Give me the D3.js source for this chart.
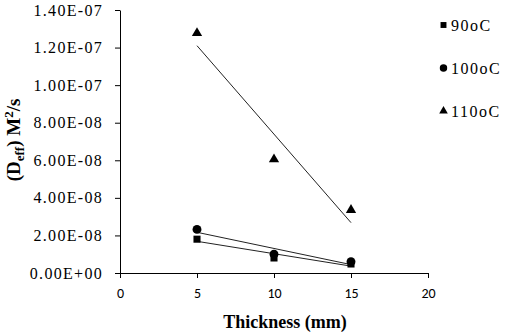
<!DOCTYPE html>
<html>
<head>
<meta charset="utf-8">
<script src="https://cdn.jsdelivr.net/npm/d3@7"></script>
<style>
  body { margin: 0; background: #fff; }
  svg { display: block; }
</style>
</head>
<body>
<div id="chart-area"></div>
<script>
var thickness = [5, 10, 15];
var series = ["90oC", "100oC", "110oC"];
var d90 = [1.8e-8, 0.8e-8, 0.48e-8];
var d100 = [2.32e-8, 1.0e-8, 0.6e-8];
var d110 = [1.277e-7, 6.05e-8, 3.35e-8];
var yTicks = [0, 2e-8, 4e-8, 6e-8, 8e-8, 1e-7, 1.2e-7, 1.4e-7];
var xTicks = [0, 5, 10, 15, 20];

var width = 507, height = 335;
var margin = {top: 10, right: 79, bottom: 62, left: 120};
var w = width - margin.left - margin.right;
var h = height - margin.top - margin.bottom;
var serif = "'Liberation Serif', 'Times New Roman', serif";

var svg = d3.select("#chart-area").append("svg")
    .attr("width", width)
    .attr("height", height);

var g = svg.append("g")
    .attr("transform", "translate(" + margin.left + "," + margin.top + ")");

var x = d3.scaleLinear().domain([0, 20]).range([0, w]);
var y = d3.scaleLinear().domain([0, 1.4e-7]).range([h, 0]);

// exponent format like 1.20E-07
function sci(v) {
    if (v === 0) return "0.00E+00";
    var e = Math.floor(Math.log10(v) + 1e-9);
    var m = v / Math.pow(10, e);
    var es = Math.abs(e) < 10 ? "0" + Math.abs(e) : "" + Math.abs(e);
    return m.toFixed(2) + "E" + (e < 0 ? "-" : "+") + es;
}

var yAxis = d3.axisLeft(y).tickValues(yTicks).tickSize(5).tickSizeOuter(0).tickFormat(sci);
var yg = g.append("g").call(yAxis);
yg.selectAll("text")
    .style("font-family", serif)
    .style("font-size", "16px")
    .style("letter-spacing", "1.3px")
    .attr("fill", "#000")
    .attr("x", -17);

var xAxis = d3.axisBottom(x).tickValues(xTicks).tickSize(5).tickSizeOuter(0);
var xg = g.append("g").attr("transform", "translate(0," + h + ")").call(xAxis);
xg.selectAll("text")
    .style("font-family", "Carlito, 'Liberation Sans', Arial, sans-serif")
    .style("font-size", "14px")
    .attr("fill", "#000")
    .attr("y", 15);

g.selectAll(".domain, .tick line").attr("stroke", "#000").attr("stroke-width", 1);

var all = [d90, d100, d110];
var shapes = [d3.symbolSquare, d3.symbolCircle, d3.symbolTriangle];
var sizes = [50, 62, 46];

// linear trend lines
all.forEach(function(vals) {
    var mx = d3.mean(thickness), my = d3.mean(vals);
    var sxy = d3.sum(thickness, function(t, i) { return (t - mx) * (vals[i] - my); });
    var sxx = d3.sum(thickness, function(t) { return (t - mx) * (t - mx); });
    var b = sxy / sxx, a = my - b * mx;
    var x0 = d3.min(thickness), x1 = d3.max(thickness);
    g.append("line")
        .attr("x1", x(x0)).attr("y1", y(a + b * x0))
        .attr("x2", x(x1)).attr("y2", y(a + b * x1))
        .attr("stroke", "#222")
        .attr("stroke-width", 1);
});

all.forEach(function(vals, si) {
    g.selectAll(".pt" + si)
        .data(vals)
        .enter().append("path")
        .attr("d", d3.symbol().type(shapes[si]).size(sizes[si]))
        .attr("transform", function(d, i) { return "translate(" + x(thickness[i]) + "," + y(d) + ")"; })
        .attr("fill", "#000");
});

// legend
var leg = svg.append("g").attr("transform", "translate(443.5,25)");
series.forEach(function(s, i) {
    var row = leg.append("g").attr("transform", "translate(0," + (i * 43) + ")");
    row.append("path")
        .attr("d", d3.symbol().type(shapes[i]).size(sizes[i] * 0.7))
        .attr("fill", "#000");
    row.append("text")
        .attr("x", 7.5).attr("y", 5.5)
        .style("font-family", serif)
        .style("font-size", "16px")
        .style("letter-spacing", "1.5px")
        .text(s);
});

// axis titles
svg.append("text")
    .attr("x", 285).attr("y", 328)
    .attr("text-anchor", "middle")
    .style("font-family", serif)
    .style("font-weight", "bold")
    .style("font-size", "18px")
    .text("Thickness (mm)");

var yl = svg.append("text")
    .attr("transform", "translate(20,140) rotate(-90)")
    .attr("text-anchor", "middle")
    .style("font-family", serif)
    .style("font-weight", "bold")
    .style("font-size", "19px");
yl.append("tspan").text("(D");
yl.append("tspan").style("font-size", "13px").attr("dy", 4).text("eff");
yl.append("tspan").attr("dy", -4).text(") M");
yl.append("tspan").style("font-size", "13px").attr("dy", -7).text("2");
yl.append("tspan").attr("dy", 7).text("/s");
</script>
</body>
</html>
